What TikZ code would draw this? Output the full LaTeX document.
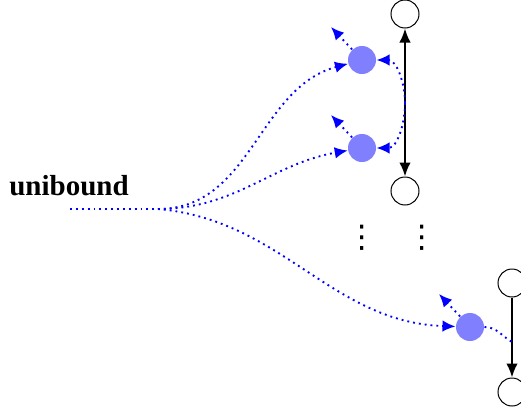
\documentclass[tikz,border=0pt]{standalone}
\usepackage{fontspec}
\setmainfont{Liberation Serif}
\newfontfamily\dejavu{DejaVu Sans}
\usetikzlibrary{arrows.meta}
\begin{document}
\begin{tikzpicture}[x=0.4pt,y=-0.4pt,
  hollow/.style={circle,draw,line width=0.4pt,minimum size=11.2pt,inner sep=0pt},
  filled/.style={circle,fill={rgb,255:red,128;green,128;blue,255},minimum size=11.2pt,inner sep=0pt},
  bdot/.style={blue,dash pattern=on 0.75pt off 1.6pt,line width=0.75pt},
  bhead/.style={-{Latex[length=5.2pt,width=4.6pt]}},
  karrow/.style={line width=0.8pt},
  vd/.style={font=\dejavu\fontsize{12.5}{13}\selectfont,inner sep=0pt}]
\useasboundingbox (0,0) rectangle (521,407);
\node[font=\bfseries\fontsize{11.6}{13}\selectfont] (lab) at (69,186) {unibound};
\coordinate (start) at (70,209);
\coordinate (fan) at (158,209);
\node[hollow] (t1) at (405,14) {};
\node[hollow] (b1) at (405,191) {};
\node[hollow] (t2) at (512,283) {};
\node[hollow] (b2) at (512,392) {};
\node[filled] (c1) at (362,60) {};
\node[filled] (c2) at (362,148) {};
\node[filled] (c3) at (470,327) {};
\coordinate (m1) at (405,103);
\coordinate (m2) at (512,342);
\coordinate (u1) at (331,27);
\coordinate (u2) at (331,115);
\coordinate (u3) at (439,294);
\node[vd] (d1) at (362,238) {⋮};
\node[vd] (d2) at (422,238) {⋮};
\draw[karrow,{Latex[length=5.6pt,width=4.6pt]}-{Latex[length=5.6pt,width=4.6pt]}] (t1) -- (b1);
\draw[karrow,-{Latex[length=5.6pt,width=4.6pt]}] (t2) -- (b2);
\draw[bdot] (start) -- (fan);
\draw[bdot,bhead] (fan) to[out=0,in=195] (c1);
\draw[bdot,bhead] (fan) to[out=0,in=190] (c2);
\draw[bdot,bhead] (fan) to[out=-5,in=178] (c3);
\draw[bdot,bhead] (c1) -- (u1);
\draw[bdot,bhead] (c2) -- (u2);
\draw[bdot,bhead] (c3) -- (u3);
\draw[bdot,bhead] (m1) to[out=90,in=0] (c1);
\draw[bdot,bhead] (m1) to[out=-90,in=0] (c2);
\draw[bdot] (c3) to[out=0,in=150] (m2);
\end{tikzpicture}
\end{document}
